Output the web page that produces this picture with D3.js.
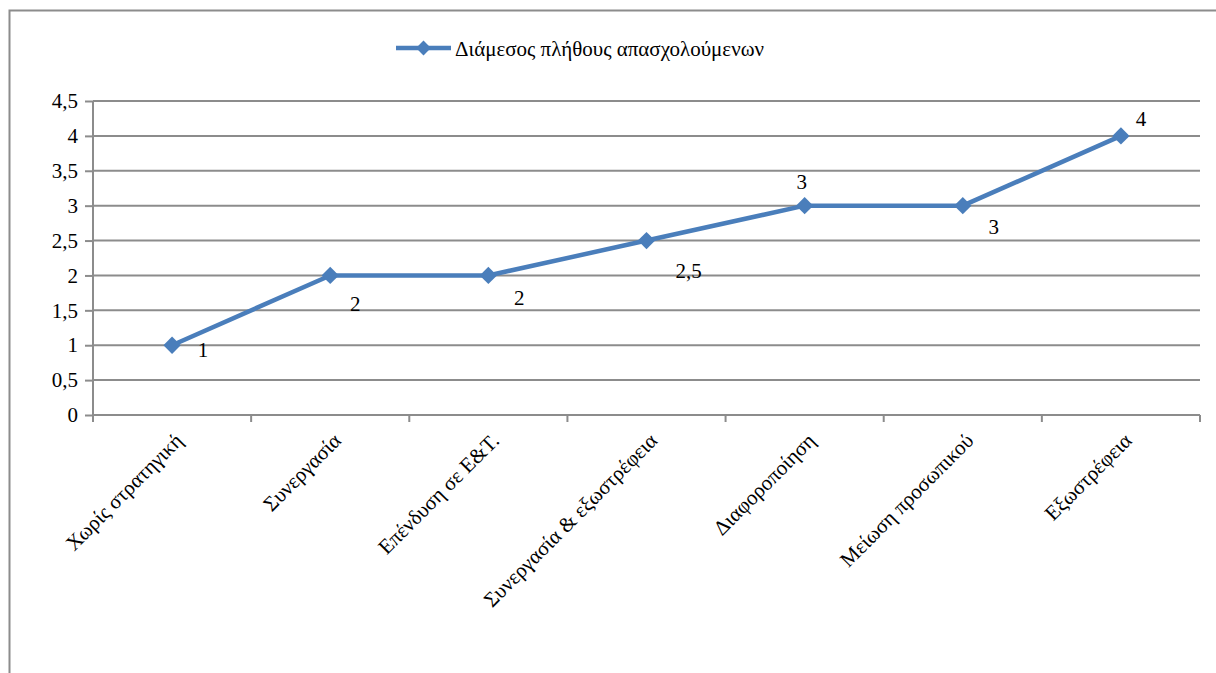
<!DOCTYPE html>
<html><head><meta charset="utf-8">
<script src="https://cdn.jsdelivr.net/npm/d3@7"></script>
<style>
html,body{margin:0;background:#fff}
svg{display:block}
svg text, text, .tick text{font-family:"Liberation Serif" !important;}
</style>
</head><body><svg id="c" width="1216" height="673"></svg>
<script>
const categories = ["Χωρίς στρατηγική","Συνεργασία","Επένδυση σε Ε&Τ.","Συνεργασία & εξωστρέφεια","Διαφοροποίηση","Μείωση προσωπικού","Εξωστρέφεια"];
const values = [1,2,2,2.5,3,3,4];
const dataLabels = ["1","2","2","2,5","3","3","4"];
const yTicks = [0,0.5,1,1.5,2,2.5,3,3.5,4,4.5];
const seriesName = "Διάμεσος πλήθους απασχολούμενων";
// label placement (dx, dy) relative to point, px
const labelOffsets = [[31,12],[25,36],[31,30],[42,37],[-3,-17],[31,28],[20,-10]];

const svg = d3.select("#c");
const font = "Times New Roman";
const grey = "#8c8c8c", blue = "#4a7ebb";

svg.append("rect").attr("x",9.5).attr("y",10.5).attr("width",1250).attr("height",700)
  .attr("fill","none").attr("stroke",grey).attr("stroke-width",2);

const L = 93, R = 1200, T = 101, B = 415;
const x = d3.scaleBand().domain(categories).range([L,R]);
const y = d3.scaleLinear().domain([0,4.5]).range([B,T]);

// gridlines
svg.append("g").selectAll("line").data(yTicks.filter(d=>d>0)).join("line")
  .attr("x1",L).attr("x2",R).attr("y1",d=>y(d)).attr("y2",d=>y(d))
  .attr("stroke",grey).attr("stroke-width",2);

// y axis
const ya = svg.append("g").attr("transform",`translate(${L},0)`)
  .call(d3.axisLeft(y).tickValues(yTicks).tickSize(8).tickPadding(6)
    .tickFormat(d=>String(d).replace(".",",")));
ya.attr("font-family",font).attr("font-size",21);
ya.select(".domain").attr("stroke",grey).attr("stroke-width",2).attr("d",`M0,${T}V${B}`);
ya.selectAll(".tick line").attr("stroke",grey).attr("stroke-width",2);
ya.selectAll("text").attr("font-family",font).attr("font-size",21).attr("fill","#000").attr("dx",-1);

// x axis
const xa = svg.append("g").attr("transform",`translate(0,${B})`);
xa.append("line").attr("x1",L).attr("x2",R).attr("y1",0).attr("y2",0).attr("stroke",grey).attr("stroke-width",2);
const edges = categories.map(c=>x(c)).concat([R]);
xa.selectAll("line.t").data(edges).join("line").attr("class","t")
  .attr("x1",d=>d).attr("x2",d=>d).attr("y1",0).attr("y2",7).attr("stroke",grey).attr("stroke-width",2);
xa.selectAll("text").data(categories).join("text")
  .attr("transform",d=>`translate(${x(d)+x.bandwidth()/2+12},${27}) rotate(-45)`)
  .attr("text-anchor","end").attr("font-family",font).attr("font-size",21).attr("fill","#000")
  .text(d=>d);

// line
const pts = categories.map((c,i)=>[x(c)+x.bandwidth()/2, y(values[i])]);
svg.append("path").attr("d",d3.line()(pts)).attr("fill","none").attr("stroke",blue).attr("stroke-width",4.5).attr("stroke-linejoin","round");
svg.append("g").selectAll("path").data(pts).join("path")
  .attr("transform",d=>`translate(${d[0]},${d[1]}) rotate(45)`).attr("d",d3.symbol().type(d3.symbolSquare).size(150)).attr("fill",blue);

// data labels
svg.append("g").selectAll("text").data(pts).join("text")
  .attr("x",(d,i)=>d[0]+labelOffsets[i][0]).attr("y",(d,i)=>d[1]+labelOffsets[i][1])
  .attr("text-anchor","middle").attr("font-family",font).attr("font-size",21).attr("fill","#000")
  .text((d,i)=>dataLabels[i]);

// legend
const lg = svg.append("g").attr("transform","translate(396,48)");
lg.append("line").attr("x1",0).attr("x2",55).attr("stroke",blue).attr("stroke-width",4.5);
lg.append("path").attr("transform","translate(27.5,0) rotate(45)").attr("d",d3.symbol().type(d3.symbolSquare).size(110)).attr("fill",blue);
lg.append("text").attr("x",59).attr("y",8).attr("font-family",font).attr("font-size",21).attr("fill","#000").text(seriesName);
</script></body></html>
